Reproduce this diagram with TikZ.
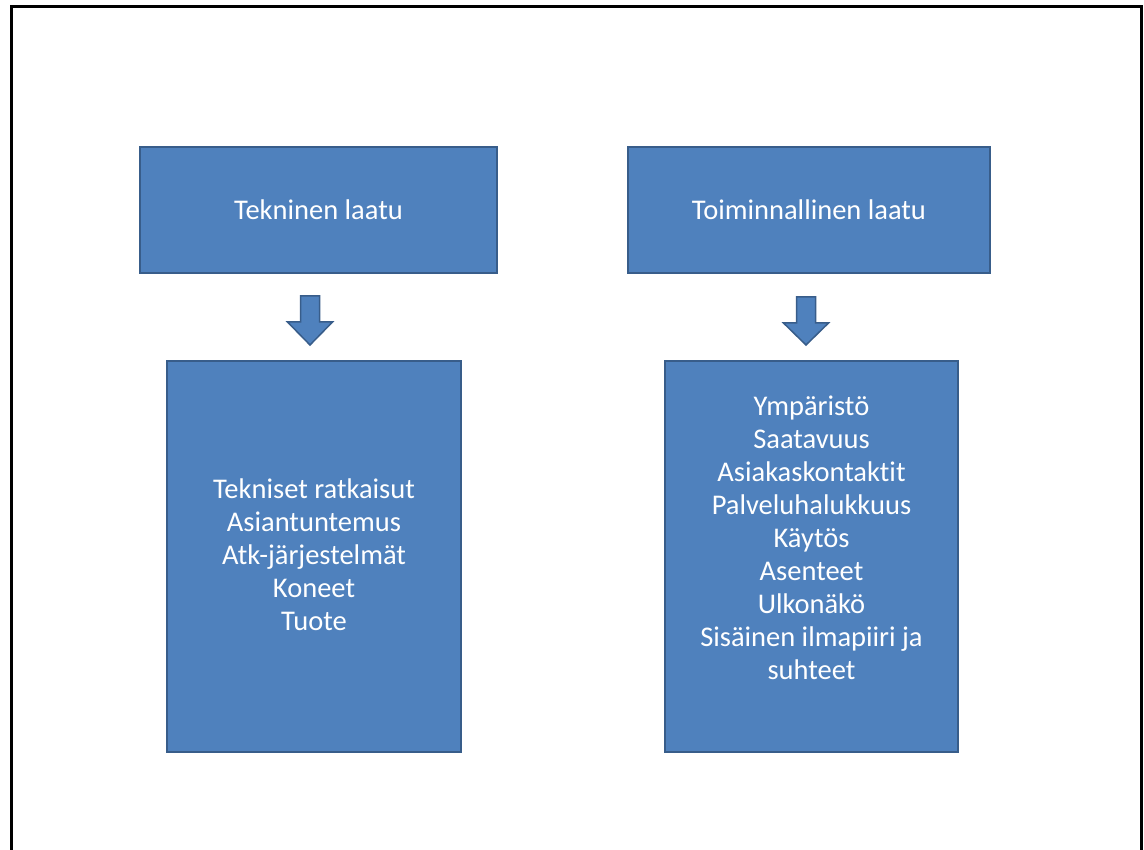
\documentclass[tikz,border=0pt]{standalone}
\usepackage{fontspec}
\setmainfont[Ligatures=NoCommon]{Carlito}
\definecolor{boxfill}{HTML}{4F81BD}
\definecolor{boxline}{HTML}{385D8A}
\tikzset{
  qbox/.style={draw=boxline, line width=2.2pt, fill=boxfill, rectangle, inner sep=0pt},
  qtext/.style={text=white, align=center, font=\fontsize{28.5}{33}\selectfont},
  qarrow/.style={draw=boxline, line width=1.5pt, fill=boxfill, line join=miter},
  frameline/.style={draw=black, line width=3pt}
}
% block arrow pointing down: centre x, top y, tip y
\newcommand\qdownarrow[3]{%
  \draw[qarrow] (#1-9.5,#2) -- (#1+9.5,#2) -- (#1+9.5,#2+26) -- (#1+22.5,#2+26)
    -- (#1,#3) -- (#1-22.5,#2+26) -- (#1-9.5,#2+26) -- cycle;}
\begin{document}
\begin{tikzpicture}[x=1pt, y=-1pt]
  \useasboundingbox (0,0) rectangle (1144,850);
  \fill[white] (0,0) rectangle (1144,850);
  % page frame, open at the bottom
  \draw[frameline] (11.5,852) -- (11.5,7) -- (1141.5,7) -- (1141.5,852);

  % header boxes
  \node[qbox, minimum width=357pt, minimum height=126pt] (tek) at (318.5,210) {};
  \node[qtext] (tekt) at (tek.center) {Tekninen laatu};
  \node[qbox, minimum width=362pt, minimum height=126pt] (toi) at (809,210) {};
  \node[qtext] (toit) at (toi.center) {Toiminnallinen laatu};

  % detail boxes
  \node[qbox, minimum width=294pt, minimum height=391pt] (tekd) at (314,556.5) {};
  \node[qtext] (tekdt) at ([yshift=2pt]tekd.center)
    {Tekniset ratkaisut\\Asiantuntemus\\Atk-järjestelmät\\Koneet\\Tuote};
  \node[qbox, minimum width=293pt, minimum height=391pt] (toid) at (811.5,556.5) {};
  \node[qtext] (toidt) at ([yshift=19pt]toid.center)
    {Ympäristö\\Saatavuus\\Asiakaskontaktit\\Palveluhalukkuus\\Käytös\\Asenteet\\Ulkonäkö\\Sisäinen ilmapiiri ja\\suhteet};

  % arrows between the boxes
  \qdownarrow{310}{296}{345}
  \qdownarrow{806}{297}{345}
\end{tikzpicture}
\end{document}
